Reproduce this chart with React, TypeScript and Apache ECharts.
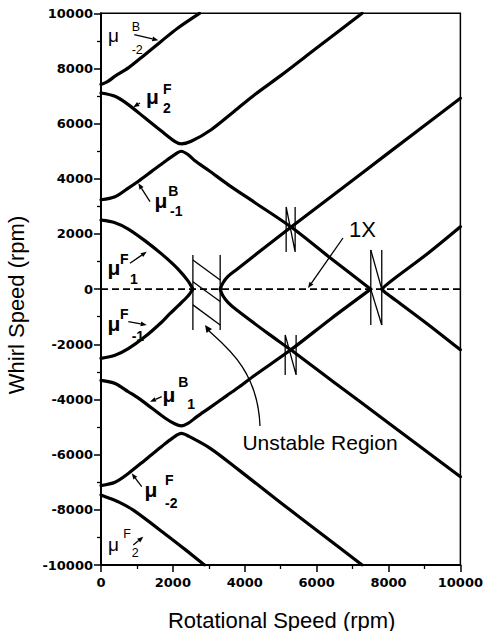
import React, { useEffect, useRef } from "react";
import * as echarts from "echarts";

// ---------- data: [rotational speed (rpm), whirl speed (rpm)] ----------
const muBm2Upper = [[0, 7420], [180, 7520], [390, 7720], [760, 8020], [1220, 8500], [1680, 8990], [2140, 9470], [2740, 10000]];
const muF2Upper = [[0, 7110], [390, 6990], [760, 6690], [1220, 6210], [1680, 5730], [2050, 5360], [2234, 5265], [2510, 5360], [3065, 5780], [3710, 6450], [4266, 7040], [5000, 7740], [6000, 8740], [7266, 10000]];
const muBm1Upper = [[0, 3240], [390, 3350], [760, 3660], [1030, 3900], [1400, 4260], [1770, 4620], [2050, 4880], [2234, 5000], [2420, 4880], [2604, 4660], [3000, 4300], [3526, 3800], [4266, 3150], [5291, 2250], [6400, 1110], [7507, 0]];
const muF1Upper = [[0, 2500], [390, 2410], [760, 2180], [1220, 1760], [1700, 1260], [2150, 720], [2420, 300], [2557, 0]];
const branch1Upper = [[3316, 0], [3388, 214], [3526, 453], [3759, 696], [4681, 1640], [5291, 2250], [6500, 3450], [8000, 4940], [10000, 6920]];
const branch3Upper = [[7812, 0], [7900, 110], [8200, 420], [9100, 1300], [10000, 2260]];

const muFm1Lower = [[0, -2510], [390, -2400], [760, -2160], [1220, -1730], [1700, -1180], [1910, -900], [2150, -600], [2420, -250], [2557, 0]];
const muB1Lower = [[0, -3310], [390, -3420], [760, -3720], [1050, -3960], [1400, -4300], [1780, -4670], [2050, -4880], [2234, -4960], [2420, -4870], [2650, -4640], [3000, -4320], [3500, -3860], [3850, -3540], [4270, -3130], [5282, -2200], [6400, -1070], [7507, 0]];
const muFm2Lower = [[0, -7120], [390, -7000], [760, -6680], [1220, -6200], [1680, -5710], [2000, -5390], [2235, -5230], [2450, -5340], [3050, -5780], [3850, -6570], [5000, -7740], [6000, -8740], [7266, -10000]];
const muF2Lower = [[0, -7460], [200, -7560], [500, -7720], [900, -8010], [1820, -8910], [2373, -9470], [2880, -10000]];
const branch1Lower = [[3316, 0], [3388, -230], [3526, -470], [3759, -740], [4681, -1640], [5282, -2200], [6500, -3390], [8000, -4850], [10000, -6800]];
const branch3Lower = [[7812, 0], [7900, -110], [8200, -400], [9100, -1280], [10000, -2200]];

const oneX = [[0, 0], [10000, 0]];

// unstable region markers
const box1Left = [[2557, 1240], [2557, -1480]];
const box1Right = [[3316, 1240], [3316, -1480]];
const box1Diag1 = [[2557, 1060], [3316, 330]];
const box1Diag2 = [[2557, 270], [3316, -450]];
const box1Diag3 = [[2557, -570], [3316, -1300]];
const nUpper = [[5152, 1350], [5152, 2980], [5402, 1350], [5402, 2980]];
const nLower = [[5125, -3110], [5125, -1660], [5429, -3110], [5429, -1660]];
const box3Left = [[7507, -1300], [7507, 1420]];
const box3Right = [[7812, -1300], [7812, 1420]];
const box3DiagA = [[7507, 1420], [7812, 0]];
const box3DiagB = [[7507, 0], [7812, -1300]];

const xRange = [0, 10000];
const yRange = [-10000, 10000];
const tickStep = 2000;

// ---------- annotation layout (pixels) ----------
const muLabels = [
  { x: 108, vc: 39.7, sup: "B", sx: 131.7, svc: 27.2, sub: "-2", bx: 131.7, bvc: 49.7, bold: false },
  { x: 146, vc: 100.5, sup: "F", sx: 163, svc: 89, sub: "2", bx: 163, bvc: 108, bold: true },
  { x: 154.5, vc: 205, sup: "B", sx: 168.3, svc: 191, sub: "-1", bx: 170, bvc: 211, bold: true },
  { x: 107.5, vc: 271.7, sup: "F", sx: 120, svc: 259, sub: "1", bx: 130, bvc: 279, bold: true },
  { x: 107.5, vc: 328, sup: "F", sx: 120, svc: 314, sub: "-1", bx: 131.7, bvc: 336, bold: true },
  { x: 162.5, vc: 398.3, sup: "B", sx: 178.3, svc: 381.7, sub: "1", bx: 187.3, bvc: 404, bold: true },
  { x: 144.5, vc: 494, sup: "F", sx: 165, svc: 480, sub: "-2", bx: 165, bvc: 502.5, bold: true },
  { x: 108, vc: 548.3, sup: "F", sx: 123.3, svc: 534, sub: "2", bx: 131.7, bvc: 553, bold: false },
];
const labelArrows = [
  [134.3, 34.7, 158.3, 40.3],
  [140, 103, 133.3, 107.3],
  [150, 201.7, 138.3, 183.3],
  [130, 263.3, 146.7, 251.7],
  [128.3, 321.7, 146.7, 325],
  [161.7, 396.7, 150, 401.7],
  [141.7, 486.7, 131.7, 473.3],
  [133.3, 545, 143.3, 536.7],
  [343, 238, 308, 288],
];

const FONT = '"Liberation Sans", Arial, Helvetica, sans-serif';

function text(t: string, x: number, y: number, font: string, align = "left", rotation = 0) {
  return {
    type: "text",
    x,
    y,
    rotation,
    silent: true,
    style: { text: t, font, fill: "#000", align, verticalAlign: "middle", textAlign: align, textVerticalAlign: "middle" },
  };
}

function arrow(x1: number, y1: number, x2: number, y2: number, head = 6, w = 2.4) {
  const dx = x2 - x1, dy = y2 - y1;
  const L = Math.hypot(dx, dy);
  const ux = dx / L, uy = dy / L;
  const bx = x2 - ux * head, by = y2 - uy * head;
  const px = -uy * w, py = ux * w;
  return [
    { type: "line", silent: true, shape: { x1, y1, x2: bx, y2: by }, style: { stroke: "#000", lineWidth: 1.3 } },
    { type: "polygon", silent: true, shape: { points: [[x2, y2], [bx + px, by + py], [bx - px, by - py]] }, style: { fill: "#000" } },
  ];
}

function buildGraphics() {
  const els: any[] = [];
  muLabels.forEach((m) => {
    const w = m.bold ? "bold " : "";
    const muFs = m.bold ? 21 : 19;
    const sFs = m.bold ? 14 : 12.5;
    els.push(text("\u03bc", m.x, m.vc - 0.195 * muFs, `${w}${muFs}px ${FONT}`));
    els.push(text(m.sup, m.sx, m.svc, `${w}${sFs}px ${FONT}`));
    els.push(text(m.sub, m.bx, m.bvc, `${w}${sFs}px ${FONT}`));
  });
  labelArrows.forEach((a) => els.push(...arrow(a[0], a[1], a[2], a[3])));
  els.push(text("1X", 362.5, 229.5, `22px ${FONT}`, "center"));
  els.push(text("Unstable Region", 320, 442.5, `21px ${FONT}`, "center"));
  els.push({
    type: "bezierCurve",
    silent: true,
    shape: { x1: 260, y1: 426, cpx1: 258, cpy1: 372, cpx2: 228, cpy2: 348, x2: 209, y2: 331 },
    style: { stroke: "#000", lineWidth: 1.3, fill: null },
  });
  els.push({
    type: "polygon",
    silent: true,
    shape: { points: [[205, 325], [206.5, 333], [212, 329]] },
    style: { fill: "#000" },
  });
  els.push(text("Rotational Speed (rpm)", 281.7, 620, `22px ${FONT}`, "center"));
  els.push(text("Whirl Speed (rpm)", 16.7, 305, `22px ${FONT}`, "center", Math.PI / 2));
  return els;
}

function curve(data: number[][]) {
  return {
    type: "line",
    data,
    showSymbol: false,
    symbol: "none",
    smooth: 0.3,
    silent: true,
    z: 3,
    lineStyle: { color: "#000", width: 3.2, cap: "round", join: "round" },
  };
}
function thin(data: number[][]) {
  return {
    type: "line",
    data,
    showSymbol: false,
    symbol: "none",
    smooth: false,
    silent: true,
    z: 2,
    lineStyle: { color: "#000", width: 1.3 },
  };
}

const axisCommon = {
  type: "value",
  interval: tickStep,
  splitLine: { show: false },
  axisLine: { show: true, onZero: false, lineStyle: { color: "#000", width: 2 } },
  axisTick: { show: true, inside: false, length: 7, lineStyle: { color: "#000", width: 1.5 } },
  minorTick: { show: true, splitNumber: 2, length: 4, lineStyle: { color: "#000", width: 1.3 } },
  minorSplitLine: { show: false },
};

export default function App() {
  const ref = useRef<HTMLDivElement>(null);
  useEffect(() => {
    if (!ref.current) return;
    const chart = echarts.init(ref.current, null, { renderer: "svg" });
    const labelStyle = {
      fontFamily: '"DejaVu Sans", sans-serif',
      fontWeight: "bold",
      fontSize: 13,
      color: "#000",
      formatter: (v: number) => String(v),
    };
    chart.setOption({
      animation: false,
      backgroundColor: "#fff",
      grid: { left: 101, right: 23.7, top: 13.3, bottom: 66, show: true, borderColor: "#000", borderWidth: 1.5, containLabel: false },
      xAxis: { ...axisCommon, min: xRange[0], max: xRange[1], axisLabel: { ...labelStyle, margin: 11 } },
      yAxis: { ...axisCommon, min: yRange[0], max: yRange[1], axisLabel: { ...labelStyle, margin: 8 } },
      series: [
        curve(muBm2Upper),
        curve(muF2Upper),
        curve(muBm1Upper),
        curve(muF1Upper),
        curve(branch1Upper),
        curve(branch3Upper),
        curve(muFm1Lower),
        curve(muB1Lower),
        curve(muFm2Lower),
        curve(muF2Lower),
        curve(branch1Lower),
        curve(branch3Lower),
        {
          type: "line",
          data: oneX,
          showSymbol: false,
          symbol: "none",
          silent: true,
          z: 2,
          lineStyle: { color: "#000", width: 1.8, type: [7, 4] },
        },
        thin(box1Left),
        thin(box1Right),
        thin(box1Diag1),
        thin(box1Diag2),
        thin(box1Diag3),
        thin(nUpper),
        thin(nLower),
        thin(box3Left),
        thin(box3Right),
        thin(box3DiagA),
        thin(box3DiagB),
      ],
      graphic: { elements: buildGraphics() },
    });
    return () => chart.dispose();
  }, []);
  return <div ref={ref} style={{ position: "absolute", left: 0, top: 0, width: 486, height: 631, background: "#fff" }} />;
}
